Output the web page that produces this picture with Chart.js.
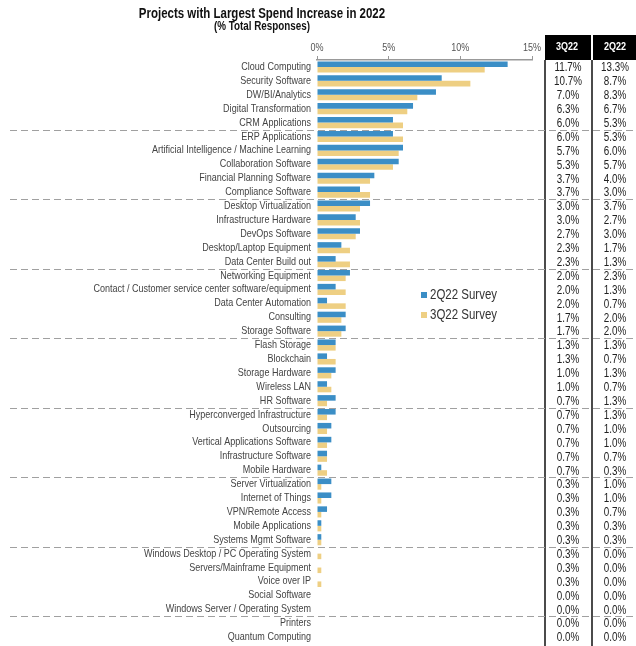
<!DOCTYPE html>
<html lang="en">
<head>
    <meta charset="UTF-8">
    <title>Projects with Largest Spend Increase in 2022</title>
    <script src="https://cdn.jsdelivr.net/npm/chart.js"></script>
    <style>
        html, body {
            margin: 0;
            padding: 0;
            background: #fff;
        }
        .chart-box {
            width: 636px;
            height: 646px;
        }
    </style>
</head>
<body>

    <div class="chart-box">
        <canvas id="spendChart"></canvas>
    </div>

    <script>
        const projects = [
            'Cloud Computing', 'Security Software', 'DW/BI/Analytics', 'Digital Transformation', 'CRM Applications',
            'ERP Applications', 'Artificial Intelligence / Machine Learning', 'Collaboration Software', 'Financial Planning Software', 'Compliance Software',
            'Desktop Virtualization', 'Infrastructure Hardware', 'DevOps Software', 'Desktop/Laptop Equipment', 'Data Center Build out',
            'Networking Equipment', 'Contact / Customer service center software/equipment', 'Data Center Automation', 'Consulting', 'Storage Software',
            'Flash Storage', 'Blockchain', 'Storage Hardware', 'Wireless LAN', 'HR Software',
            'Hyperconverged Infrastructure', 'Outsourcing', 'Vertical Applications Software', 'Infrastructure Software', 'Mobile Hardware',
            'Server Virtualization', 'Internet of Things', 'VPN/Remote Access', 'Mobile Applications', 'Systems Mgmt Software',
            'Windows Desktop / PC Operating System', 'Servers/Mainframe Equipment', 'Voice over IP', 'Social Software', 'Windows Server / Operating System',
            'Printers', 'Quantum Computing'
        ];

        // % of total responses, 3Q22 survey
        const survey3Q22 = [
            11.7, 10.7, 7.0, 6.3, 6.0,
            6.0, 5.7, 5.3, 3.7, 3.7,
            3.0, 3.0, 2.7, 2.3, 2.3,
            2.0, 2.0, 2.0, 1.7, 1.7,
            1.3, 1.3, 1.0, 1.0, 0.7,
            0.7, 0.7, 0.7, 0.7, 0.7,
            0.3, 0.3, 0.3, 0.3, 0.3,
            0.3, 0.3, 0.3, 0.0, 0.0,
            0.0, 0.0
        ];

        // % of total responses, 2Q22 survey
        const survey2Q22 = [
            13.3, 8.7, 8.3, 6.7, 5.3,
            5.3, 6.0, 5.7, 4.0, 3.0,
            3.7, 2.7, 3.0, 1.7, 1.3,
            2.3, 1.3, 0.7, 2.0, 2.0,
            1.3, 0.7, 1.3, 0.7, 1.3,
            1.3, 1.0, 1.0, 0.7, 0.3,
            1.0, 1.0, 0.7, 0.3, 0.3,
            0.0, 0.0, 0.0, 0.0, 0.0,
            0.0, 0.0
        ];

        const axisTicks = [0, 5, 10, 15];
        const tableColumns = ['3Q22', '2Q22'];

        const BLUE = '#3b8ec6';
        const GOLD = '#eecf83';
        const SANS = "'Liberation Sans', Arial, sans-serif";
        const SQUEEZE = 0.82;   // narrow look for all the text

        function narrowText(ctx, text, x, y, align) {
            ctx.save();
            ctx.translate(x, y);
            ctx.scale(SQUEEZE, 1);
            ctx.textAlign = align;
            ctx.fillText(text, 0, 0);
            ctx.restore();
        }

        // title, axis labels, dashed group separators, value table and legend
        const extras = {
            id: 'extras',
            afterDraw(chart) {
                const ctx = chart.ctx;
                const x = chart.scales.x;
                const y = chart.scales.y;
                const rowY = i => y.getPixelForValue(i);

                ctx.save();
                ctx.textBaseline = 'middle';

                ctx.fillStyle = '#111';
                ctx.font = `bold 14px ${SANS}`;
                narrowText(ctx, 'Projects with Largest Spend Increase in 2022', 262, 14, 'center');
                ctx.font = `bold 12px ${SANS}`;
                narrowText(ctx, '(% Total Responses)', 262, 27, 'center');

                // x tick labels
                ctx.fillStyle = '#555';
                ctx.font = `11px ${SANS}`;
                axisTicks.forEach(v => narrowText(ctx, v + '%', x.getPixelForValue(v), 48, 'center'));

                // category labels
                ctx.fillStyle = '#444';
                ctx.font = `11px ${SANS}`;
                projects.forEach((p, i) => narrowText(ctx, p, 311, rowY(i), 'right'));

                // table header
                ctx.fillStyle = '#000';
                ctx.fillRect(545, 35, 46, 25);
                ctx.fillRect(593, 35, 43, 25);
                ctx.fillStyle = '#fff';
                ctx.font = `bold 11px ${SANS}`;
                narrowText(ctx, tableColumns[0], 567, 47, 'center');
                narrowText(ctx, tableColumns[1], 615, 47, 'center');

                // table rules
                ctx.strokeStyle = '#111';
                ctx.lineWidth = 1.5;
                ctx.beginPath();
                ctx.moveTo(545, 60); ctx.lineTo(545, 646);
                ctx.moveTo(592, 60); ctx.lineTo(592, 646);
                ctx.stroke();

                // table values
                ctx.fillStyle = '#222';
                ctx.font = `12px ${SANS}`;
                projects.forEach((p, i) => {
                    const yy = rowY(i) + 1;
                    narrowText(ctx, survey3Q22[i].toFixed(1) + '%', 568, yy, 'center');
                    narrowText(ctx, survey2Q22[i].toFixed(1) + '%', 615, yy, 'center');
                });

                // dashed separators every five rows
                ctx.strokeStyle = '#a0a0a0';
                ctx.lineWidth = 1;
                ctx.setLineDash([7, 4]);
                for (let i = 4; i < projects.length - 1; i += 5) {
                    const yy = Math.round((rowY(i) + rowY(i + 1)) / 2) + 0.5;
                    ctx.beginPath();
                    ctx.moveTo(10, yy);
                    ctx.lineTo(636, yy);
                    ctx.stroke();
                }
                ctx.setLineDash([]);

                // legend
                ctx.font = `14px ${SANS}`;
                chart.data.datasets.forEach((ds, k) => {
                    const ly = 295 + k * 20;
                    ctx.fillStyle = ds.backgroundColor;
                    ctx.fillRect(421, ly - 3, 6, 6);
                    ctx.fillStyle = '#333';
                    narrowText(ctx, ds.label, 430, ly, 'left');
                });
                ctx.restore();
            }
        };

        new Chart(document.getElementById('spendChart'), {
            type: 'bar',
            data: {
                labels: projects,
                datasets: [
                    { label: '2Q22 Survey', data: survey2Q22, backgroundColor: BLUE },
                    { label: '3Q22 Survey', data: survey3Q22, backgroundColor: GOLD }
                ]
            },
            options: {
                indexAxis: 'y',
                responsive: true,
                maintainAspectRatio: false,
                animation: false,
                categoryPercentage: 0.8,
                barPercentage: 1.0,
                layout: {
                    padding: { top: 37, right: 104, bottom: 2, left: 0 }
                },
                plugins: {
                    legend: { display: false },
                    title: { display: false },
                    tooltip: { enabled: false }
                },
                scales: {
                    x: {
                        position: 'top',
                        min: 0,
                        max: 15,
                        afterFit(scale) { scale.height = 23; },
                        afterBuildTicks(scale) {
                            scale.ticks = axisTicks.map(v => ({ value: v }));
                        },
                        ticks: { display: false },
                        grid: {
                            drawOnChartArea: false,
                            tickLength: 4,
                            color: '#999'
                        },
                        border: { color: '#999', width: 1.5 }
                    },
                    y: {
                        afterFit(scale) { scale.width = 317; },
                        ticks: { display: false },
                        grid: { display: false },
                        border: { display: false }
                    }
                }
            },
            plugins: [extras]
        });
    </script>

</body>
</html>
